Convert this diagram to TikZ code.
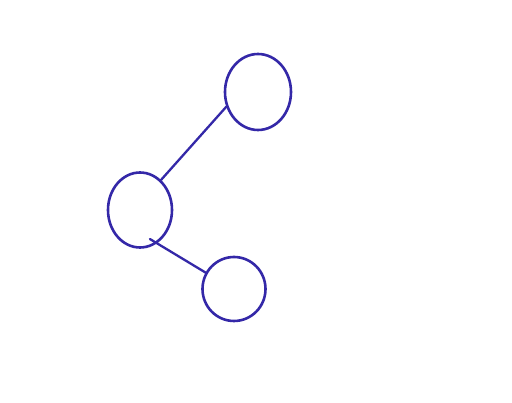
\documentclass[tikz,border=0pt]{standalone}
\usetikzlibrary{shapes.geometric}
\definecolor{pen}{RGB}{52,40,168}
\begin{document}
\begin{tikzpicture}[x=1pt,y=-1pt,
  ball/.style={ellipse,draw=pen,line width=2.6pt,inner sep=0pt},
  link/.style={draw=pen,line width=2.3pt,line cap=round}]
\useasboundingbox[fill=white] (0,0) rectangle (512,403);
\node[ball,minimum width=66pt,minimum height=76pt] (top) at (258,92) {};
\node[ball,minimum width=64pt,minimum height=75pt] (mid) at (140,210) {};
\node[ball,minimum width=63pt,minimum height=64pt] (bot) at (234,289) {};
\draw[link] (mid.55) -- (top.205);
\draw[link] ([shift={(0,-8)}]mid.-75) -- (bot.150);
\end{tikzpicture}
\end{document}
